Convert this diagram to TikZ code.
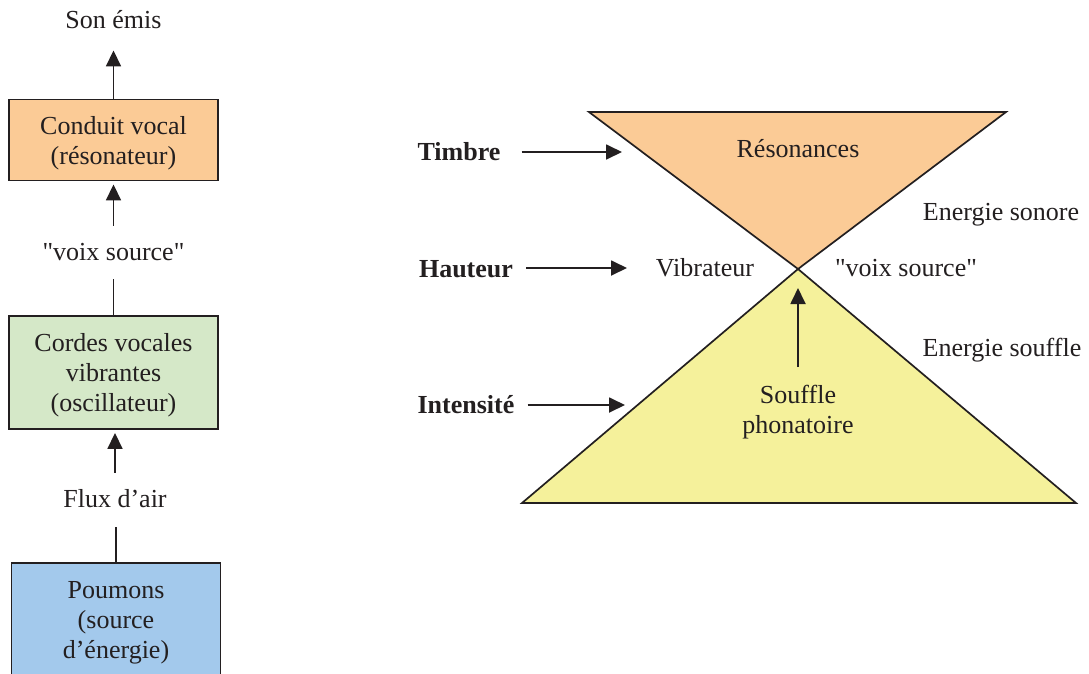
\documentclass[tikz,border=0pt]{standalone}
\usepackage{fontspec}
\setmainfont{Liberation Serif}
\usetikzlibrary{arrows.meta}
\definecolor{ink}{RGB}{35,31,32}
\definecolor{orangef}{RGB}{251,203,150}
\definecolor{greenf}{RGB}{213,232,200}
\definecolor{bluef}{RGB}{163,201,236}
\definecolor{yellowf}{RGB}{245,241,155}
\begin{document}
\begin{tikzpicture}[x=1pt,y=-1pt,
  lbl/.style={font=\fontsize{26}{30}\selectfont, text=ink, inner sep=0pt, align=center},
  bx/.style={draw=ink, line width=1.9pt, minimum width=209pt, inner sep=0pt},
  arr/.style={draw=ink, line width=1.8pt, -{Triangle[length=16pt,width=15pt]}},
  ln/.style={draw=ink, line width=1.8pt},
  tri/.style={draw=ink, line width=1.7pt, line join=miter}]
\clip (0,0) rectangle (1089,673);
\fill[white] (0,0) rectangle (1089,673);

% ---------- left column ----------
\node[bx, fill=orangef, minimum height=81pt] (conduit) at (113.5,140) {};
\node[bx, fill=greenf, minimum height=113pt] (cordes) at (113.5,372.5) {};
\node[bx, fill=bluef, minimum height=114pt] (poumons) at (116,620) {};
\node[lbl] (conduitT) at ([yshift=-3pt]conduit.center) {Conduit vocal\\(résonateur)};
\node[lbl] (cordesT) at ([yshift=-3pt]cordes.center) {Cordes vocales\\vibrantes\\(oscillateur)};
\node[lbl] (poumonsT) at ([yshift=-3pt]poumons.center) {Poumons\\(source\\d’énergie)};

\node[lbl, anchor=base] (son) at (113.5,28) {Son émis};
\node[lbl, anchor=base] (voixL) at (113.5,260) {\textquotedbl voix source\textquotedbl};
\node[lbl, anchor=base] (flux) at (115,507) {Flux d’air};

\draw[arr, shorten >=22pt] (conduit.north) -- (son.south);
\draw[arr, shorten <=17pt, shorten >=3pt] (voixL.north) -- (conduit.south);
\draw[ln, shorten >=19pt] (cordes.north) -- (voixL.south);
\draw[arr, shorten <=16pt, shorten >=3pt] (flux.north) -- (flux.north |- cordes.south);
\draw[ln, shorten >=20pt] (poumons.north) -- (poumons.north |- flux.south);

% ---------- right: hourglass ----------
\coordinate (A) at (798,269);
\coordinate (TL) at (589,112);
\coordinate (TR) at (1006,112);
\coordinate (BL) at (522,503);
\coordinate (BR) at (1076,503);
\draw[tri, fill=orangef] (TL) -- (TR) -- (A) -- cycle;
\draw[tri, fill=yellowf] (BL) -- (BR) -- (A) -- cycle;

\node[lbl, anchor=base] (reson) at (798,157) {Résonances};
\node[lbl, anchor=base] (vib) at (705,276) {Vibrateur};
\node[lbl, anchor=base] (voixR) at (906,276) {\textquotedbl voix source\textquotedbl};
\node[lbl, anchor=base] (esonore) at (1001,220) {Energie sonore};
\node[lbl, anchor=base] (esouffle) at (1002,356) {Energie souffle};
\node[lbl, anchor=north] (souffle) at (798,385) {Souffle\\phonatoire};

\draw[arr, shorten <=18pt, shorten >=19pt] (souffle.north -| A) -- (A);

% ---------- left labels ----------
\node[lbl, anchor=base] (timbre) at (459,160) {\textbf{Timbre}};
\node[lbl, anchor=base] (hauteur) at (466,277) {\textbf{Hauteur}};
\node[lbl, anchor=base] (intens) at (466,413) {\textbf{Intensité}};
\coordinate (tT) at (622,152);
\coordinate (hH) at (627,268);
\coordinate (iI) at (625,405);
\draw[arr, shorten <=21pt] (timbre.east |- tT) -- (tT);
\draw[arr, shorten <=13pt] (hauteur.east |- hH) -- (hH);
\draw[arr, shorten <=13pt] (intens.east |- iI) -- (iI);
\end{tikzpicture}
\end{document}
